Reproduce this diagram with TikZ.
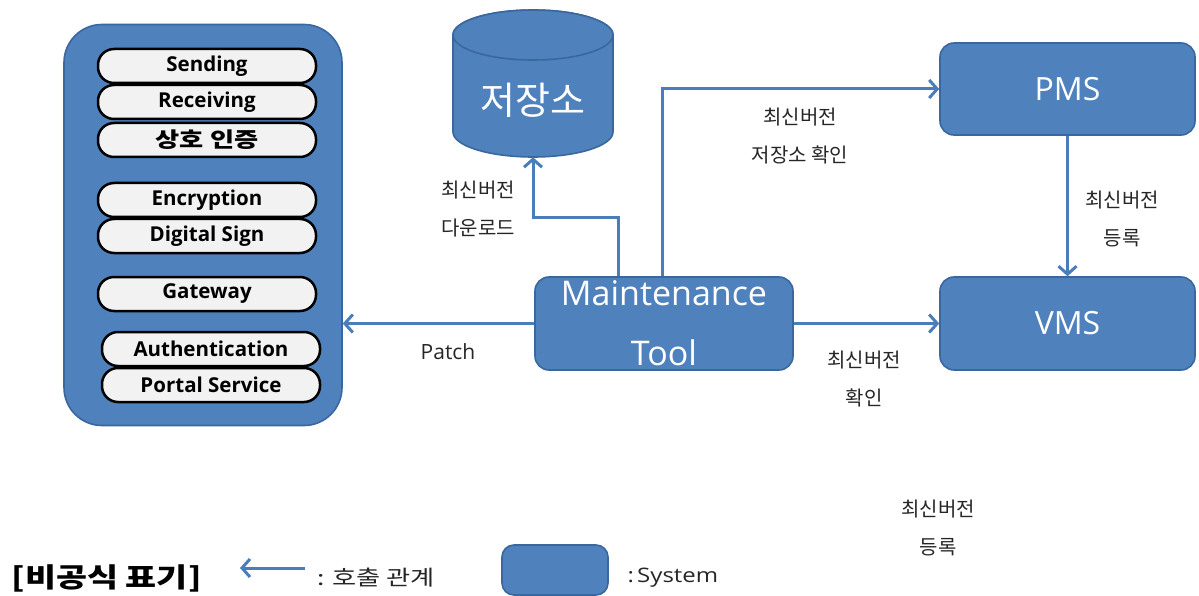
\documentclass[tikz,border=0pt]{standalone}
\usepackage{fontspec}
\setmainfont{Open Sans}
\newfontfamily\kr{Noto Sans CJK KR}
\newfontfamily\krwide[FakeStretch=1.25]{Noto Sans CJK KR}
\newfontfamily\latwide[FakeStretch=1.2]{Open Sans}
\usetikzlibrary{arrows.meta}

\definecolor{sysblue}{HTML}{4F81BD}
\definecolor{sysedge}{HTML}{3A679E}
\definecolor{linkblue}{HTML}{4A7EBB}
\definecolor{pillfill}{HTML}{F2F2F2}
\definecolor{labelgray}{HTML}{262626}

\tikzset{
  sysbox/.style={draw=sysedge, line width=1.6pt, fill=sysblue, rounded corners=14pt,
    text=white, inner sep=0pt},
  pill/.style={draw=black, line width=2.5pt, fill=pillfill, rounded corners=16pt,
    minimum width=218pt, minimum height=34pt, inner sep=0pt,
    font=\bfseries\fontsize{20.5}{20.5}\selectfont},
  link/.style={draw=linkblue, line width=3pt,
    -{Straight Barb[length=8pt,width=18pt]}},
  lbl/.style={font=\kr\fontsize{20}{38}\selectfont, align=center, text=labelgray},
}

\begin{document}
\begin{tikzpicture}[x=1pt,y=1pt]
\useasboundingbox (0,0) rectangle (1199,-596);

% module panel with its stacked services
\node[sysbox, rounded corners=38pt, minimum width=278pt, minimum height=401pt]
  (panel) at (203,-225) {};
\node[pill] (p1) at (207,-66)  {Sending};
\node[pill] (p2) at (207,-102) {Receiving};
\node[pill, font=\krwide\bfseries\fontsize{21}{21}\selectfont] (p3) at (207,-140) {상호 인증};
\node[pill] (p4) at (207,-200) {Encryption};
\node[pill] (p5) at (207,-236) {Digital Sign};
\node[pill] (p6) at (207,-294) {Gateway};
\node[pill] (p7) at (211,-349) {Authentication};
\node[pill] (p8) at (211,-385) {Portal Service};

% repository cylinder
\fill[sysblue, draw=sysedge, line width=1.6pt]
  (453,-35) -- (453,-132) arc[start angle=180, end angle=360, x radius=80pt, y radius=25pt]
  -- (613,-35) arc[start angle=0, end angle=180, x radius=80pt, y radius=25pt] -- cycle;
\draw[sysedge, line width=1.6pt, fill=sysblue] (533,-35) ellipse[x radius=80pt, y radius=25pt];
\node[minimum width=160pt, minimum height=147pt, inner sep=0pt] (store) at (533,-83.5) {};
\node[text=white, font=\kr\fontsize{38}{38}\selectfont] (storetxt) at (533,-100) {저장소};

% systems
\node[sysbox, minimum width=258pt, minimum height=93pt, align=center,
  font=\fontsize{34}{60}\selectfont] (mt) at (664,-323.5) {Maintenance\\Tool};
\node[sysbox, minimum width=255pt, minimum height=92pt,
  font=\fontsize{32}{32}\selectfont] (pms) at (1067.5,-89) {PMS};
\node[sysbox, minimum width=255pt, minimum height=93pt,
  font=\fontsize{32}{32}\selectfont] (vms) at (1067.5,-323.5) {VMS};

% call relations
\draw[link] ([xshift=-46pt]mt.north) -- ++(0,59) -| (store.south);
\draw[link] ([xshift=-2pt]mt.north) |- (pms.west);
\draw[link] (pms.south) -- (vms.north);
\draw[link] (mt.east) -- (vms.west);
\draw[link] (mt.west) -- (mt.west -| panel.east);

% relation labels
\node[lbl] (l1) at (478,-209) {최신버전\\다운로드};
\node[lbl] (l2) at (800,-136) {최신버전\\저장소 확인};
\node[lbl] (l3) at (1122,-219) {최신버전\\등록};
\node[lbl, font=\fontsize{21}{21}\selectfont] (l4) at (448,-352) {Patch};
\node[lbl] (l5) at (864,-379) {최신버전\\확인};
\node[lbl] (l6) at (938,-528) {최신버전\\등록};

% legend
\node[anchor=west, font=\krwide\bfseries\fontsize{27}{27}\selectfont] (lgtitle) at (8,-578) {[비공식 표기]};
\coordinate (lgA) at (305,-568);
\coordinate (lgB) at (240,-568);
\draw[link] (lgA) -- (lgB);
\node[anchor=west, lbl, font=\krwide\fontsize{21}{21}\selectfont] (lgcall) at (314,-578) {: 호출 관계};
\node[sysbox, rounded corners=12pt, minimum width=106pt, minimum height=50pt] (lgbox) at (555,-570) {};
\node[anchor=west, lbl, font=\latwide\fontsize{20}{20}\selectfont] (lgsys) at (624,-578) {:\,System};
\end{tikzpicture}
\end{document}
